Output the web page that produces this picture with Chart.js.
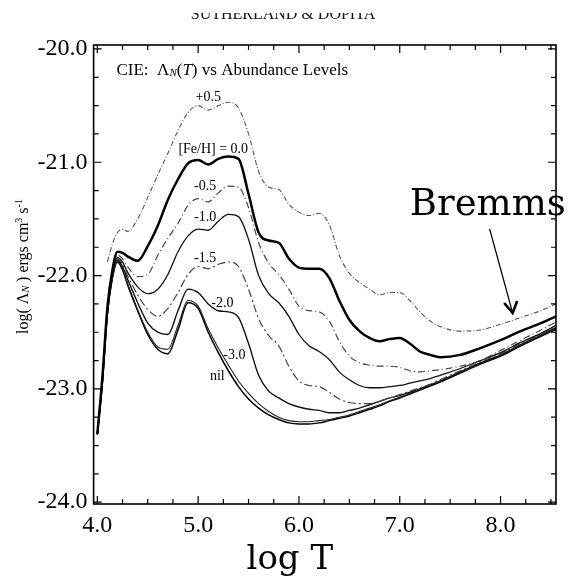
<!DOCTYPE html>
<html>
<head>
<meta charset="utf-8">
<script src="https://cdn.jsdelivr.net/npm/chart.js@4.4.1/dist/chart.umd.min.js"></script>
<style>
  html, body { margin: 0; padding: 0; background: #fff; }
</style>
</head>
<body>
<canvas id="coolingChart" width="569" height="577"></canvas>
<script>
// log T grid shared by every curve
const logT = [4.0, 4.05, 4.1, 4.15, 4.2, 4.25, 4.3, 4.4, 4.5, 4.6, 4.7, 4.8, 4.9, 5.0, 5.1, 5.2, 5.3, 5.4, 5.5, 5.6,
              5.7, 5.8, 5.9, 6.0, 6.1, 6.2, 6.3, 6.4, 6.5, 6.6, 6.7, 6.8, 6.9, 7.0, 7.1, 7.2, 7.3, 7.4, 7.6, 7.8,
              8.0, 8.2, 8.4, 8.55];

// log(Lambda_N), one array per [Fe/H]
const fehPlus05 = [null, null, -21.88, -21.72, -21.62, -21.59, -21.61, -21.50, -21.31, -21.11, -20.92, -20.72, -20.56, -20.50, -20.54, -20.50, -20.47, -20.52, -20.75, -21.08,
                   -21.22, -21.24, -21.37, -21.44, -21.47, -21.45, -21.55, -21.82, -21.98, -22.06, -22.12, -22.17, -22.15, -22.15, -22.22, -22.32, -22.40, -22.45, -22.49, -22.48,
                   -22.43, -22.37, -22.31, -22.25];
const fehZero   = [-23.40, -22.90, -22.28, -21.95, -21.79, -21.80, -21.83, -21.87, -21.74, -21.56, -21.33, -21.15, -21.01, -20.98, -21.02, -20.97, -20.95, -20.97, -21.28, -21.62,
                   -21.69, -21.71, -21.85, -21.93, -21.94, -21.94, -22.02, -22.22, -22.39, -22.49, -22.55, -22.58, -22.56, -22.55, -22.60, -22.67, -22.70, -22.72, -22.70, -22.64,
                   -22.57, -22.49, -22.42, -22.36];
const fehMinus05 = [-23.40, -22.91, -22.30, -21.98, -21.82, -21.85, -21.92, -22.01, -21.99, -21.82, -21.67, -21.54, -21.38, -21.32, -21.35, -21.27, -21.21, -21.22, -21.40, -21.71,
                    -21.89, -21.99, -22.12, -22.27, -22.31, -22.32, -22.40, -22.58, -22.71, -22.77, -22.79, -22.80, -22.80, -22.81, -22.84, -22.85, -22.84, -22.83, -22.80, -22.75,
                    -22.66, -22.57, -22.48, -22.41];
const fehMinus10 = [-23.40, -22.92, -22.31, -21.99, -21.84, -21.88, -21.97, -22.10, -22.16, -22.12, -21.99, -21.79, -21.65, -21.59, -21.60, -21.52, -21.46, -21.48, -21.68, -22.00,
                    -22.16, -22.24, -22.36, -22.52, -22.62, -22.67, -22.74, -22.85, -22.92, -22.97, -22.99, -22.99, -22.98, -22.97, -22.95, -22.93, -22.91, -22.88, -22.82, -22.75,
                    -22.68, -22.59, -22.51, -22.44];
const fehMinus15 = [-23.40, -22.93, -22.32, -22.00, -21.85, -21.90, -22.00, -22.17, -22.30, -22.36, -22.29, -22.15, -21.99, -21.92, -21.94, -21.90, -21.88, -21.92, -22.12, -22.38,
                    -22.53, -22.62, -22.80, -22.93, -22.97, -22.98, -23.03, -23.09, -23.12, -23.13, -23.13, -23.11, -23.08, -23.05, -23.02, -22.99, -22.96, -22.92, -22.84, -22.76,
                    -22.69, -22.60, -22.52, -22.45];
const fehMinus20 = [-23.40, -22.94, -22.33, -22.01, -21.86, -21.92, -22.03, -22.24, -22.42, -22.50, -22.52, -22.31, -22.12, -22.15, -22.25, -22.31, -22.32, -22.37, -22.60, -22.88,
                    -23.02, -23.08, -23.13, -23.16, -23.18, -23.19, -23.21, -23.21, -23.19, -23.17, -23.14, -23.11, -23.08, -23.06, -23.03, -23.00, -22.965, -22.93, -22.85, -22.77,
                    -22.70, -22.61, -22.525, -22.46];
const fehMinus30 = [-23.40, -22.95, -22.34, -22.02, -21.87, -21.94, -22.07, -22.30, -22.50, -22.63, -22.65, -22.44, -22.22, -22.27, -22.47, -22.64, -22.79, -22.93, -23.04, -23.13,
                    -23.20, -23.25, -23.28, -23.29, -23.29, -23.28, -23.27, -23.25, -23.23, -23.20, -23.17, -23.14, -23.105, -23.075, -23.04, -23.005, -22.97, -22.935, -22.855, -22.775,
                    -22.705, -22.615, -22.53, -22.47];
const fehNil     = [-23.40, -22.95, -22.34, -22.02, -21.88, -21.95, -22.08, -22.31, -22.52, -22.65, -22.69, -22.48, -22.24, -22.29, -22.50, -22.68, -22.84, -22.98, -23.09, -23.17,
                    -23.23, -23.27, -23.30, -23.31, -23.31, -23.30, -23.28, -23.26, -23.24, -23.21, -23.18, -23.15, -23.11, -23.08, -23.045, -23.01, -22.975, -22.94, -22.86, -22.78,
                    -22.71, -22.62, -22.535, -22.475];

const xTickValues = [4, 5, 6, 7, 8];
const yTickValues = [-24, -23, -22, -21, -20];
const curveNames = ['+0.5', '[Fe/H] = 0.0', '-0.5', '-1.0', '-1.5', '-2.0', '-3.0', 'nil'];

const serif = 'Liberation Serif';
const slab = 'DejaVu Serif';

// label anchors in data units (logT, logLambda)
const labelSpots = [
  [5.10, -20.43], [5.15, -20.89], [5.07, -21.215], [5.07, -21.49],
  [5.07, -21.85], [5.24, -22.245], [5.36, -22.70], [5.19, -22.89]
];

const seriesList = [
  { data: fehPlus05, color: '#555', width: 1.1, dash: [5, 2, 1, 2] },
  { data: fehZero, color: '#000', width: 2.5, dash: [] },
  { data: fehMinus05, color: '#444', width: 1.2, dash: [7, 3, 1, 3] },
  { data: fehMinus10, color: '#111', width: 1.3, dash: [] },
  { data: fehMinus15, color: '#444', width: 1.2, dash: [8, 3, 2, 3] },
  { data: fehMinus20, color: '#111', width: 1.4, dash: [] },
  { data: fehMinus30, color: '#222', width: 1.1, dash: [] },
  { data: fehNil, color: '#000', width: 1.5, dash: [] }
];

const datasets = seriesList.map((s, i) => ({
  label: curveNames[i],
  data: logT.map((t, j) => ({ x: t, y: s.data[j] })),
  borderColor: s.color,
  borderWidth: s.width,
  borderDash: s.dash,
  pointRadius: 0,
  fill: false,
  spanGaps: false,
  cubicInterpolationMode: 'monotone'
}));

// draw a row of text pieces (for sub/superscripts)
function drawPieces(ctx, pieces, x, y, align) {
  let total = 0;
  pieces.forEach(p => { ctx.font = p.font; total += ctx.measureText(p.text).width; });
  let cx = align === 'center' ? x - total / 2 : x;
  pieces.forEach(p => {
    ctx.font = p.font;
    ctx.fillText(p.text, cx, y + (p.dy || 0));
    cx += ctx.measureText(p.text).width;
  });
}

const decorPlugin = {
  id: 'decor',
  afterDatasetsDraw(chart) {
    const ctx = chart.ctx;
    const area = chart.chartArea;
    const xs = chart.scales.x;
    const ys = chart.scales.y;
    ctx.save();
    ctx.fillStyle = '#000';
    ctx.strokeStyle = '#000';
    ctx.textAlign = 'left';
    ctx.textBaseline = 'alphabetic';

    // frame
    ctx.lineWidth = 1.6;
    ctx.strokeRect(area.left, area.top, area.right - area.left, area.bottom - area.top);

    // inward ticks on all four sides
    ctx.lineWidth = 1.2;
    ctx.beginPath();
    for (let v = 4.0; v <= 8.5001; v += 0.25) {
      const px = xs.getPixelForValue(v);
      const len = Math.abs(v - Math.round(v)) < 1e-6 ? 8 : 5;
      ctx.moveTo(px, area.bottom); ctx.lineTo(px, area.bottom - len);
      ctx.moveTo(px, area.top); ctx.lineTo(px, area.top + len);
    }
    for (let v = -24.0; v <= -19.999; v += 0.25) {
      const py = ys.getPixelForValue(v);
      const len = Math.abs(v - Math.round(v)) < 1e-6 ? 8 : 5;
      ctx.moveTo(area.left, py); ctx.lineTo(area.left + len, py);
      ctx.moveTo(area.right, py); ctx.lineTo(area.right - len, py);
    }
    ctx.stroke();

    // title inside the frame
    const tx = xs.getPixelForValue(4.19);
    const ty = ys.getPixelForValue(-20.23);
    drawPieces(ctx, [
      { text: 'CIE:  \u039B', font: `17px "${serif}"` },
      { text: 'N', font: `italic 11px "${serif}"`, dy: 1 },
      { text: '(', font: `17px "${serif}"` },
      { text: 'T', font: `italic 17px "${serif}"` },
      { text: ') vs Abundance Levels', font: `17px "${serif}"` }
    ], tx, ty, 'left');

    // curve labels
    ctx.font = `14px "${serif}"`;
    ctx.textAlign = 'center';
    ctx.textBaseline = 'middle';
    curveNames.forEach((name, i) => {
      ctx.fillText(name, xs.getPixelForValue(labelSpots[i][0]), ys.getPixelForValue(labelSpots[i][1]));
    });

    // Bremms note and arrow
    ctx.textAlign = 'left';
    ctx.textBaseline = 'alphabetic';
    ctx.font = `37px "${slab}"`;
    ctx.fillText('Bremms', xs.getPixelForValue(7.10), ys.getPixelForValue(-21.465));
    const ax = xs.getPixelForValue(8.12);
    const ay = ys.getPixelForValue(-22.33);
    ctx.lineWidth = 1.2;
    ctx.beginPath();
    ctx.moveTo(ax - 23, ay - 84);
    ctx.lineTo(ax, ay);
    ctx.stroke();
    ctx.lineWidth = 2.6;
    ctx.beginPath();
    ctx.moveTo(ax - 8.5, ay - 10);
    ctx.lineTo(ax, ay);
    ctx.lineTo(ax + 4.5, ay - 12);
    ctx.stroke();
    ctx.restore();

    // y axis title, rotated
    ctx.save();
    ctx.fillStyle = '#000';
    ctx.translate(22, (area.top + area.bottom) / 2 - 8);
    ctx.rotate(-Math.PI / 2);
    drawPieces(ctx, [
      { text: 'log( \u039B', font: `16px "${serif}"` },
      { text: 'N', font: `italic 10px "${serif}"`, dy: 1 },
      { text: ' ) ergs cm', font: `16px "${serif}"` },
      { text: '3', font: `10px "${serif}"`, dy: -6 },
      { text: ' s', font: `16px "${serif}"` },
      { text: '-1', font: `10px "${serif}"`, dy: -6 }
    ], 0, 6, 'center');
    ctx.restore();

    // x axis title
    ctx.save();
    ctx.fillStyle = '#000';
    ctx.textAlign = 'center';
    ctx.font = `34px "${slab}"`;
    ctx.fillText('log T', (area.left + area.right) / 2 - 35, 569);
    ctx.restore();

    // page header, cut off at the top like the scan
    ctx.save();
    ctx.beginPath();
    ctx.rect(0, 13, chart.width, 20);
    ctx.clip();
    ctx.fillStyle = '#111';
    ctx.textAlign = 'center';
    ctx.font = `16px "${serif}"`;
    ctx.fillText('SUTHERLAND & DOPITA', 283, 19);
    ctx.restore();
  }
};

new Chart(document.getElementById('coolingChart').getContext('2d'), {
  type: 'line',
  data: { datasets: datasets },
  options: {
    responsive: false,
    animation: false,
    layout: { padding: { top: 45, right: 13, left: 0, bottom: 0 } },
    plugins: {
      legend: { display: false },
      tooltip: { enabled: false }
    },
    scales: {
      x: {
        type: 'linear',
        min: 3.963,
        max: 8.55,
        afterFit: s => { s.height = 73; },
        afterBuildTicks: s => { s.ticks = xTickValues.map(v => ({ value: v })); },
        grid: { display: false, drawTicks: false },
        border: { display: false },
        ticks: {
          color: '#000',
          padding: 7,
          maxRotation: 0,
          autoSkip: false,
          font: { family: serif, size: 24 },
          callback: v => Number(v).toFixed(1)
        }
      },
      y: {
        type: 'linear',
        min: -24.016,
        max: -19.965,
        afterFit: s => { s.width = 93.6; },
        afterBuildTicks: s => { s.ticks = yTickValues.map(v => ({ value: v })); },
        grid: { display: false, drawTicks: false },
        border: { display: false },
        ticks: {
          color: '#000',
          padding: 6,
          autoSkip: false,
          font: { family: serif, size: 24 },
          callback: v => Number(v).toFixed(1)
        }
      }
    }
  },
  plugins: [decorPlugin]
});
</script>
</body>
</html>
